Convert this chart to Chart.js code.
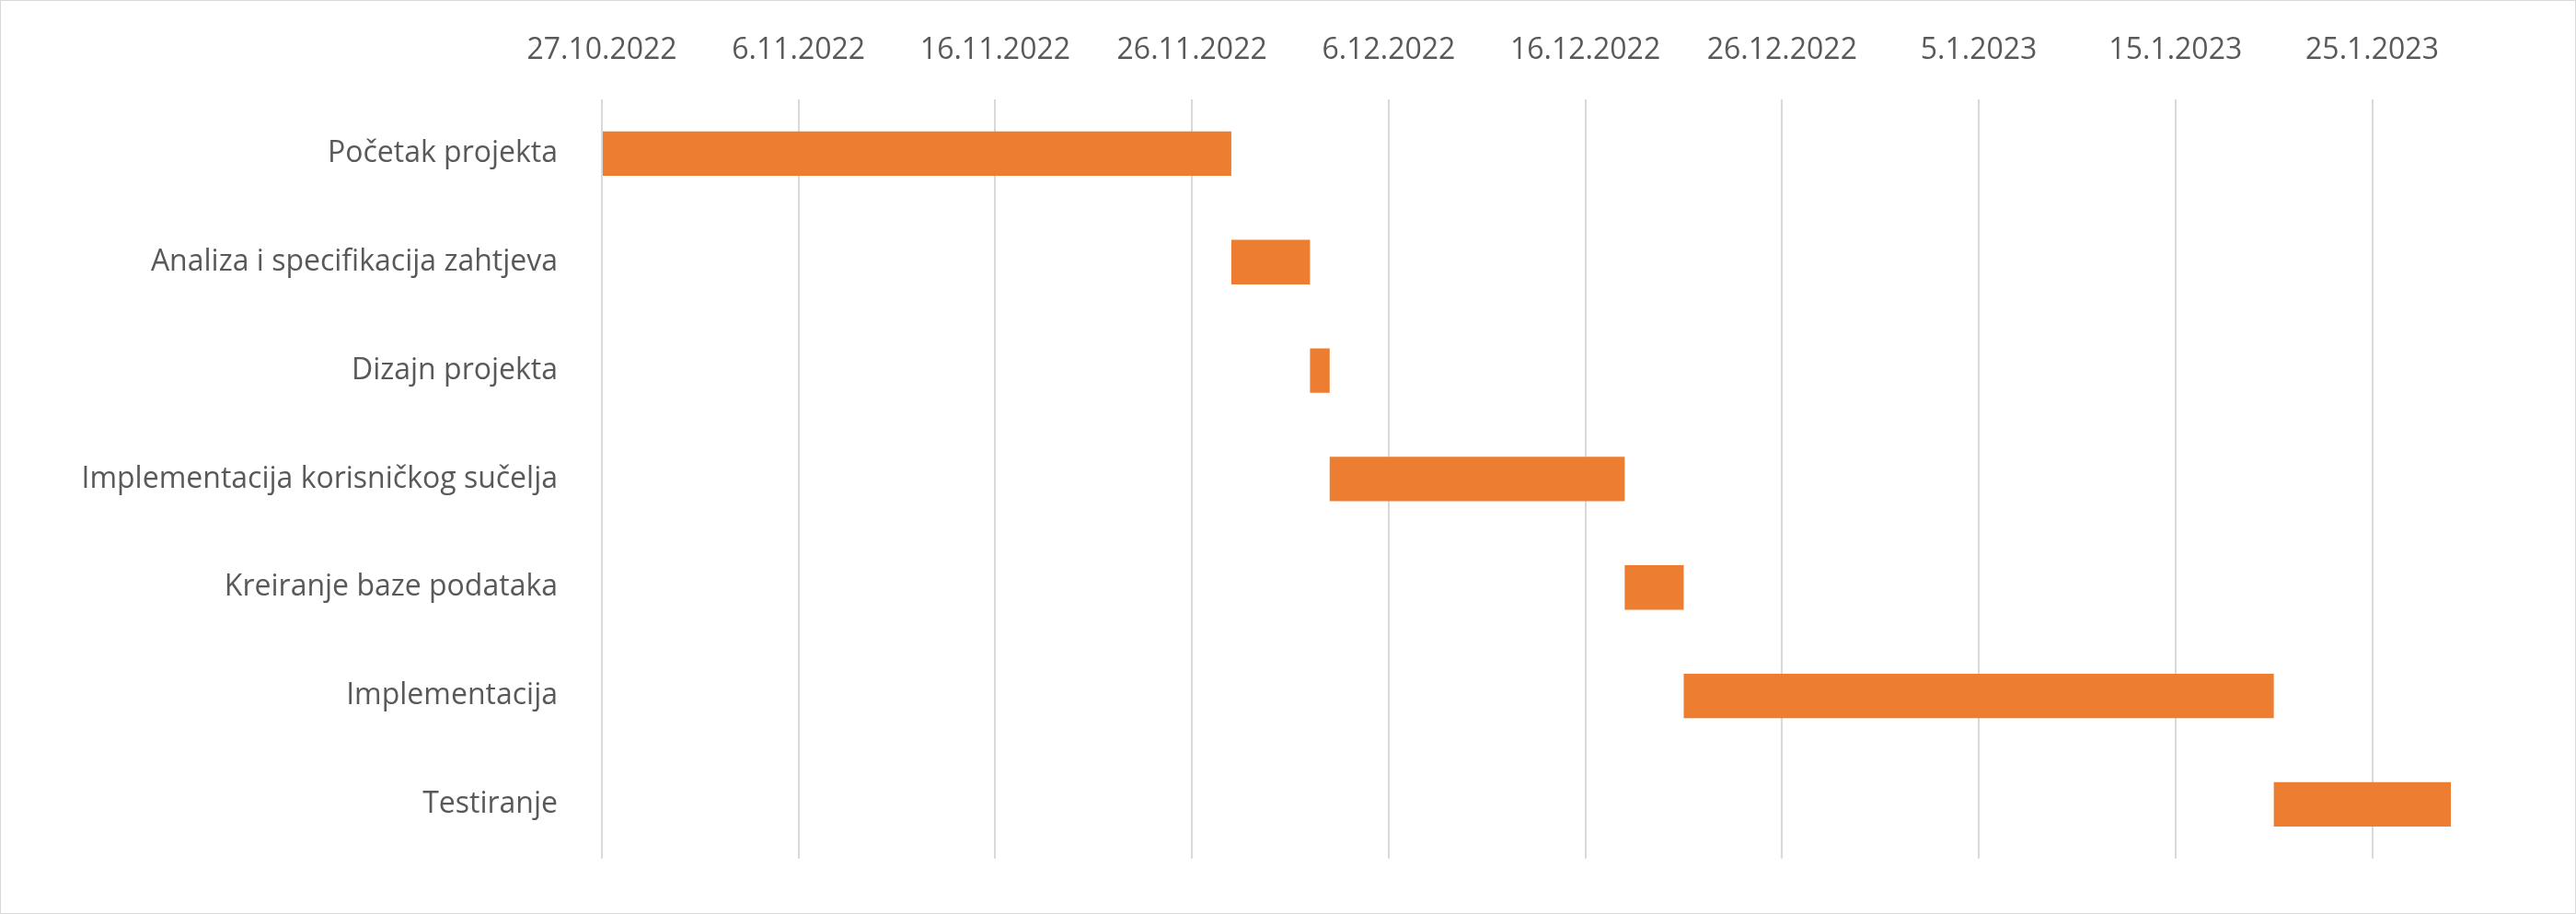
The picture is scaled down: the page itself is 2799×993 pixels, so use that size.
<!DOCTYPE html>
<html>
<head>
<meta charset="utf-8">
<script src="https://cdn.jsdelivr.net/npm/chart.js@4"></script>
<style>
  html, body { margin: 0; padding: 0; background: #fff; }
  #wrap { width: 2797px; height: 991px; border: 1px solid #d9d9d9; }
</style>
</head>
<body>
<div id="wrap"><canvas id="gantt"></canvas></div>
<script>
const tasks = [
  "Početak projekta",
  "Analiza i specifikacija zahtjeva",
  "Dizajn projekta",
  "Implementacija korisničkog sučelja",
  "Kreiranje baze podataka",
  "Implementacija",
  "Testiranje",
];
const startDates = ["2022-10-27", "2022-11-28", "2022-12-02", "2022-12-03", "2022-12-18", "2022-12-21", "2023-01-20"];
const endDates   = ["2022-11-28", "2022-12-02", "2022-12-03", "2022-12-18", "2022-12-21", "2023-01-20", "2023-01-29"];
const axisStart = "2022-10-27";
const axisEnd = "2023-01-29";

const DAY = 86400000;
const t0 = Date.parse(axisStart);
const toDay = s => Math.round((Date.parse(s) - t0) / DAY);
const fmt = d => {
  const dt = new Date(t0 + d * DAY);
  return dt.getUTCDate() + "." + (dt.getUTCMonth() + 1) + "." + dt.getUTCFullYear();
};

const ctx = document.getElementById("gantt");
new Chart(ctx, {
  type: "bar",
  data: {
    labels: tasks,
    datasets: [{
      data: tasks.map((_, i) => [toDay(startDates[i]), toDay(endDates[i])]),
      backgroundColor: "#ed7d31",
      borderWidth: 0,
      borderSkipped: false,
      barPercentage: 0.41,
      categoryPercentage: 1,
    }],
  },
  options: {
    indexAxis: "y",
    responsive: true,
    maintainAspectRatio: false,
    animation: false,
    layout: { padding: { left: 0, right: 135, top: 0, bottom: 55 } },
    plugins: { legend: { display: false }, tooltip: { enabled: false } },
    scales: {
      x: {
        position: "top",
        min: 0,
        max: toDay(axisEnd),
        afterFit: s => { s.height = 107; },
        afterBuildTicks: s => {
          const t = [];
          for (let v = 0; v <= s.max; v += 10) t.push({ value: v });
          s.ticks = t;
        },
        ticks: {
          callback: v => fmt(v),
          color: "#595959",
          font: { family: "Open Sans", size: 32 },
          padding: 34,
          maxRotation: 0,
          autoSkip: false,
        },
        grid: { color: "#d9d9d9", lineWidth: 2, drawTicks: false },
        border: { display: false },
      },
      y: {
        afterFit: s => { s.width = 653; },
        ticks: {
          color: "#595959",
          font: { family: "Open Sans", size: 32 },
          padding: 40,
        },
        grid: { display: false },
        border: { display: false },
      },
    },
  },
});
</script>
</body>
</html>
